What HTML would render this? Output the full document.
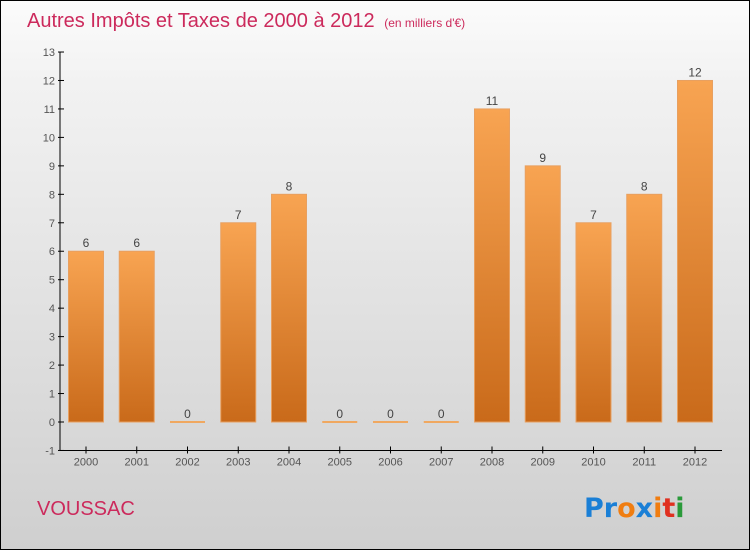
<!DOCTYPE html>
<html><head><meta charset="utf-8"><style>
body{margin:0}
#c{position:relative;width:748px;height:548px;border:1px solid #000;background:linear-gradient(#fbfbfb,#f2f2f2 15%,#cfcfcf);overflow:hidden;font-family:"Liberation Sans",sans-serif}
</style></head><body>
<div id="c">
<svg width="748" height="548">
<defs><linearGradient id="bg" x1="0" y1="0" x2="0" y2="1"><stop offset="0" stop-color="#f8a452"/><stop offset="1" stop-color="#c96a1a"/></linearGradient></defs>
<text x="26" y="26" font-size="20" fill="#cc2a5c">Autres Impôts et Taxes de 2000 à 2012 <tspan font-size="12" dx="4">(en milliers d'€)</tspan></text>
<g id="plot"></g>
<text x="36" y="514" font-size="20" fill="#cc2a5c">VOUSSAC</text>
<g font-size="27" font-weight="bold" font-family="'DejaVu Sans',sans-serif">
<text x="583" y="516"><tspan fill="#1a7fd6">Pr</tspan><tspan fill="#f07d10">o</tspan><tspan fill="#1a7fd6">x</tspan><tspan fill="#f07d10">i</tspan><tspan fill="#e03020">t</tspan><tspan fill="#2a9a3a">i</tspan></text>
</g>
</svg>
</div>
<script>
const years=["2000","2001","2002","2003","2004","2005","2006","2007","2008","2009","2010","2011","2012"];
const values=[6,6,0,7,8,0,0,0,11,9,7,8,12];
const yTicks=[-1,0,1,2,3,4,5,6,7,8,9,10,11,12,13];
const NS="http://www.w3.org/2000/svg";
const g=document.getElementById('plot');
function y(v){return 421-(v*28.46);}
function x(i){return 85+i*50.75;}
function mk(t,a){const e=document.createElementNS(NS,t);for(const k in a)e.setAttribute(k,a[k]);g.appendChild(e);return e;}
let ax=mk('line',{x1:59,y1:y(13),x2:59,y2:y(-1),stroke:'#000'});


let bx=mk('line',{x1:59,y1:y(-1),x2:721,y2:y(-1),stroke:'#000'});


yTicks.forEach(v=>{
 mk('line',{x1:57,y1:y(v),x2:63,y2:y(v),stroke:'#000'});
 const t=mk('text',{x:54,y:y(v)+4,'text-anchor':'end','font-size':11,fill:'#555'});
 t.textContent=v;
 
 
});
years.forEach((yr,i)=>{
 const v=values[i],cx=x(i);
 mk('line',{x1:cx,y1:y(-1)-4,x2:cx,y2:y(-1)+3,stroke:'#000'});
 const t=mk('text',{x:cx,y:y(-1)+15,'text-anchor':'middle','font-size':11,fill:'#555'});
 t.textContent=yr;
 
 
 const h=Math.max(y(0)-y(v),2);
 const r=mk('rect',{x:cx-17.5,y:y(0)-h+(v===0?1:0),width:35,height:h,fill:v===0?'#f0a860':'url(#bg)',stroke:'#e8a060','stroke-width':v===0?0:1});
 
 
 const l=mk('text',{x:cx,y:y(v)-4,'text-anchor':'middle','font-size':12,fill:'#444'});
 l.textContent=v;
 
 
});
</script>
</body></html>
